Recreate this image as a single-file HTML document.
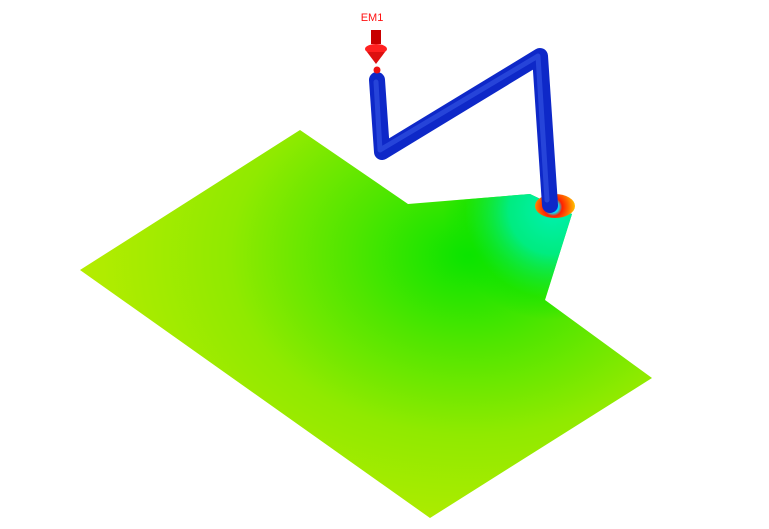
<!DOCTYPE html>
<html><head><meta charset="utf-8"><style>
html,body{margin:0;padding:0;background:#fff;width:769px;height:529px;overflow:hidden}
svg{display:block}
</style></head><body>
<svg width="769" height="529" viewBox="0 0 769 529">
<defs>
<radialGradient id="plateG" cx="470" cy="255" r="400" gradientUnits="userSpaceOnUse" gradientTransform="translate(470 255) scale(1 0.75) translate(-470 -255)">
<stop offset="0" stop-color="#08e400"/><stop offset="0.3" stop-color="#50e600"/><stop offset="0.6" stop-color="#90ea00"/><stop offset="1" stop-color="#b8ec00"/>
</radialGradient>
<radialGradient id="flowG" cx="553" cy="210" r="110" gradientUnits="userSpaceOnUse">
<stop offset="0" stop-color="#00f0b0"/><stop offset="0.4" stop-color="#00ec80"/><stop offset="0.8" stop-color="#10e400" stop-opacity="0.5"/><stop offset="1" stop-color="#10e400" stop-opacity="0"/>
</radialGradient>
<radialGradient id="ringG" cx="553" cy="207" r="23" gradientUnits="userSpaceOnUse">
<stop offset="0" stop-color="#0030ff"/><stop offset="0.25" stop-color="#00e0ff"/><stop offset="0.4" stop-color="#ff2000"/><stop offset="0.7" stop-color="#ff7000"/><stop offset="1" stop-color="#ffd000"/>
</radialGradient>
</defs>
<g>
<polygon points="300,130 408,204 530,194 572,214 545,300 652,378 430,518 80,270" fill="url(#plateG)"/>
<polygon points="300,130 408,204 530,194 572,214 545,300 652,378 430,518 80,270" fill="url(#flowG)"/>
</g>
<ellipse cx="555" cy="206" rx="20" ry="12" fill="url(#ringG)"/>
<g fill="none" stroke-linecap="round" stroke-linejoin="round">
<polyline points="377,80 382,152 540,56 550,205" stroke="#0e28c8" stroke-width="16"/>
<polyline points="376,82 380,150 538,56 547,200" stroke="#3050e0" stroke-width="5" opacity="0.7"/>
</g>
<g fill="#ee1010">
<rect x="371" y="30" width="10" height="14" fill="#c80000"/>
<ellipse cx="376" cy="49" rx="11" ry="5" fill="#ff2020"/>
<polygon points="367,52 385,52 376,64" fill="#dd1010"/>
<circle cx="377" cy="70" r="3.5"/>
</g>
<text x="372" y="21" font-family="Liberation Sans, sans-serif" font-size="11" fill="#ff1010" text-anchor="middle">EM1</text>
</svg>
</body></html>
